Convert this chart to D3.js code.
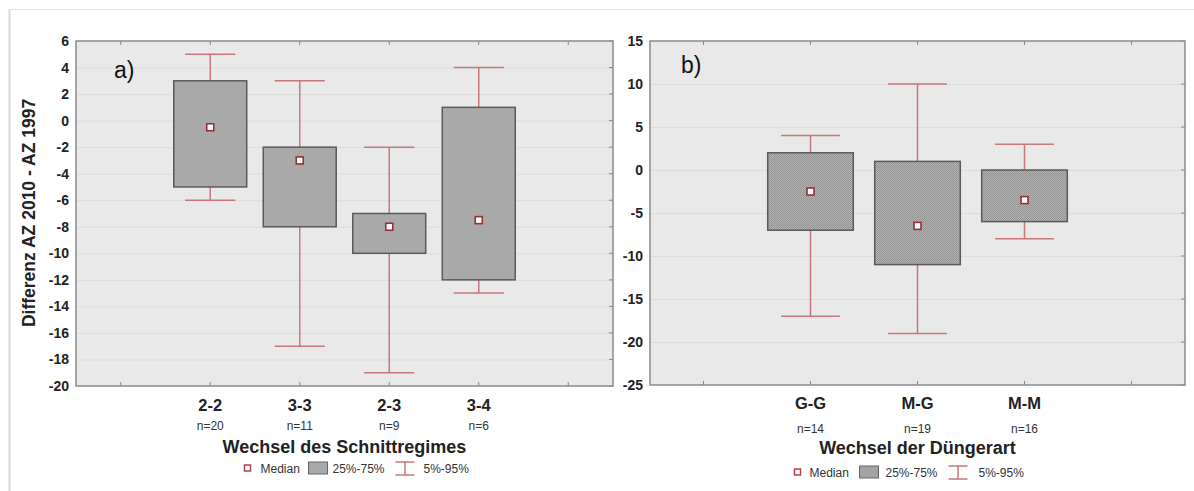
<!DOCTYPE html>
<html>
<head>
<meta charset="utf-8">
<script src="https://cdn.jsdelivr.net/npm/d3@7"></script>
<style>
  body { margin: 0; background: #fff; }
  svg { font-family: Arial, "Liberation Sans", sans-serif; }
</style>
</head>
<body>
<svg id="chart" width="1194" height="491"></svg>
<script>
// Daten Teil a) Schnittregime
const catsA = ["", "2-2", "3-3", "2-3", "3-4", ""];
const nA = ["", "n=20", "n=11", "n=9", "n=6", ""];
const medA = [null, -0.5, -3, -8, -7.5, null];
const q1A = [null, -5, -8, -10, -12, null];
const q3A = [null, 3, -2, -7, 1, null];
const lowA = [null, -6, -17, -19, -13, null];
const highA = [null, 5, 3, -2, 4, null];
const ticksA = [6, 4, 2, 0, -2, -4, -6, -8, -10, -12, -14, -16, -18, -20];

// Daten Teil b) Düngerart
const catsB = ["", "G-G", "M-G", "M-M", ""];
const nB = ["", "n=14", "n=19", "n=16", ""];
const medB = [null, -2.5, -6.5, -3.5, null];
const q1B = [null, -7, -11, -6, null];
const q3B = [null, 2, 1, 0, null];
const lowB = [null, -17, -19, -8, null];
const highB = [null, 4, 10, 3, null];
const ticksB = [15, 10, 5, 0, -5, -10, -15, -20, -25];

const svg = d3.select("#chart");

// feines Punktmuster für Teil b
const defs = svg.append("defs");
const pat = defs.append("pattern")
  .attr("id", "stipple").attr("width", 2).attr("height", 2)
  .attr("patternUnits", "userSpaceOnUse");
pat.append("rect").attr("width", 2).attr("height", 2).attr("fill", "#b2b2b2");
pat.append("rect").attr("width", 1).attr("height", 1).attr("fill", "#949494");
pat.append("rect").attr("x", 1).attr("y", 1).attr("width", 1).attr("height", 1).attr("fill", "#949494");

// Rahmen
svg.append("line").attr("x1", 9.5).attr("x2", 9.5).attr("y1", 9).attr("y2", 491)
  .attr("stroke", "#d8d8d8").attr("stroke-width", 2);
svg.append("line").attr("x1", 9).attr("x2", 1194).attr("y1", 9.5).attr("y2", 9.5)
  .attr("stroke", "#e4e4e4").attr("stroke-width", 1);

const whiskerCol = "#c9777a";
const fmt = d => String(d); // Bindestrich statt Minuszeichen

function panel(o) {
  const g = svg.append("g");
  const x = d3.scaleBand().domain(o.cats.map((c, i) => i)).range([o.left, o.right]);
  const y = d3.scaleLinear().domain([o.ticks[o.ticks.length - 1], o.ticks[0]]).range([o.bottom, o.top]);
  const bw = x.bandwidth();
  const cx = i => x(i) + bw / 2;

  g.append("rect").attr("x", o.left).attr("y", o.top)
    .attr("width", o.right - o.left).attr("height", o.bottom - o.top)
    .attr("fill", "#e9e9e9");

  // Gitterlinien
  g.selectAll(".grid").data(o.ticks.slice(1, -1)).enter().append("line")
    .attr("x1", o.left).attr("x2", o.right)
    .attr("y1", d => y(d) + 0.5).attr("y2", d => y(d) + 0.5)
    .attr("stroke", "#dcdcdc").attr("stroke-width", 1);

  // y-Achse
  const ya = g.append("g").attr("transform", `translate(${o.left},0)`)
    .call(d3.axisLeft(y).tickValues(o.ticks).tickFormat(fmt).tickSize(0).tickPadding(7));
  ya.select(".domain").remove();
  ya.selectAll("text").attr("font-size", 14).attr("font-weight", "bold").attr("fill", "#222");

  // rechte Ticks
  g.selectAll(".rt").data(o.ticks).enter().append("line")
    .attr("x1", o.right - 4).attr("x2", o.right)
    .attr("y1", d => y(d)).attr("y2", d => y(d)).attr("stroke", "#888");

  // obere und untere Ticks
  const idx = o.cats.map((c, i) => i);
  g.selectAll(".tt").data(idx).enter().append("line")
    .attr("x1", cx).attr("x2", cx).attr("y1", o.top).attr("y2", o.top + 4).attr("stroke", "#888");
  g.selectAll(".bt").data(idx).enter().append("line")
    .attr("x1", cx).attr("x2", cx).attr("y1", o.bottom - 4).attr("y2", o.bottom).attr("stroke", "#888");

  const valid = idx.filter(i => o.med[i] !== null);

  // Whisker
  const capW = bw * o.capFrac;
  g.selectAll(".wh").data(valid).enter().append("line")
    .attr("x1", cx).attr("x2", cx)
    .attr("y1", i => y(o.high[i])).attr("y2", i => y(o.low[i]))
    .attr("stroke", whiskerCol).attr("stroke-width", 1.5);
  ["high", "low"].forEach(k => {
    g.selectAll(".cap" + k).data(valid).enter().append("line")
      .attr("x1", i => cx(i) - capW / 2).attr("x2", i => cx(i) + capW / 2)
      .attr("y1", i => y(o[k][i])).attr("y2", i => y(o[k][i]))
      .attr("stroke", whiskerCol).attr("stroke-width", 1.5);
  });

  // Boxen
  const boxW = bw * o.boxFrac;
  g.selectAll(".box").data(valid).enter().append("rect")
    .attr("x", i => cx(i) - boxW / 2).attr("width", boxW)
    .attr("y", i => y(o.q3[i])).attr("height", i => y(o.q1[i]) - y(o.q3[i]))
    .attr("fill", o.fill).attr("stroke", "#5a5a5a").attr("stroke-width", 1.5);

  // Median
  g.selectAll(".med").data(valid).enter().append("rect")
    .attr("x", i => cx(i) - 3.5).attr("y", i => y(o.med[i]) - 3.5)
    .attr("width", 7).attr("height", 7)
    .attr("fill", "#fff").attr("stroke", "#9a2e34").attr("stroke-width", 1.6);

  // Plotrahmen
  g.append("rect").attr("x", o.left).attr("y", o.top)
    .attr("width", o.right - o.left).attr("height", o.bottom - o.top)
    .attr("fill", "none").attr("stroke", "#8a8a8a").attr("stroke-width", 1.5);

  // Kategorien
  g.selectAll(".cat").data(valid).enter().append("text")
    .attr("x", cx).attr("y", o.catY).attr("text-anchor", "middle")
    .attr("font-size", 16.5).attr("font-weight", "bold").attr("fill", "#222")
    .text(i => o.cats[i]);
  g.selectAll(".nn").data(valid).enter().append("text")
    .attr("x", cx).attr("y", o.nY).attr("text-anchor", "middle")
    .attr("font-size", 12).attr("fill", "#333")
    .text(i => o.n[i]);

  const mid = (o.left + o.right) / 2;
  g.append("text").attr("x", mid).attr("y", o.titleY).attr("text-anchor", "middle")
    .attr("font-size", 18).attr("font-weight", "bold").attr("fill", "#222").text(o.title);

  g.append("text").attr("x", o.labelX).attr("y", o.labelY)
    .attr("font-size", 23).attr("fill", "#111").text(o.label);

  // Legende
  const L = o.leg;
  const lg = g.append("g").attr("transform", `translate(${mid},${o.legY})`);
  lg.append("rect").attr("x", L[0]).attr("y", -8).attr("width", 6).attr("height", 6)
    .attr("fill", "#fff").attr("stroke", "#b0454a").attr("stroke-width", 1.5);
  lg.append("text").attr("x", L[1]).attr("y", 0).attr("font-size", 12).attr("fill", "#333").text("Median");
  lg.append("rect").attr("x", L[2]).attr("y", -11).attr("width", 19).attr("height", 12)
    .attr("fill", o.fill).attr("stroke", "#666");
  lg.append("text").attr("x", L[3]).attr("y", 0).attr("font-size", 12).attr("fill", "#333").text("25%-75%");
  lg.append("line").attr("x1", L[4]).attr("x2", L[4] + 19).attr("y1", -11).attr("y2", -11).attr("stroke", whiskerCol).attr("stroke-width", 1.5);
  lg.append("line").attr("x1", L[4]).attr("x2", L[4] + 19).attr("y1", 2).attr("y2", 2).attr("stroke", whiskerCol).attr("stroke-width", 1.5);
  lg.append("line").attr("x1", L[4] + 9.5).attr("x2", L[4] + 9.5).attr("y1", -11).attr("y2", 2).attr("stroke", whiskerCol).attr("stroke-width", 1.5);
  lg.append("text").attr("x", L[5]).attr("y", 0).attr("font-size", 12).attr("fill", "#333").text("5%-95%");
}

panel({
  cats: catsA, n: nA, med: medA, q1: q1A, q3: q3A, low: lowA, high: highA, ticks: ticksA,
  left: 76, right: 613, top: 41, bottom: 386, boxFrac: 0.815, capFrac: 0.56,
  fill: "#a9a9a9", title: "Wechsel des Schnittregimes", label: "a)", labelX: 114, labelY: 78,
  catY: 411, nY: 430, titleY: 453, legY: 473, leg: [-100, -84, -36, -12, 51, 79]
});

panel({
  cats: catsB, n: nB, med: medB, q1: q1B, q3: q3B, low: lowB, high: highB, ticks: ticksB,
  left: 650, right: 1185, top: 41, bottom: 385, boxFrac: 0.80, capFrac: 0.55,
  fill: "url(#stipple)", title: "Wechsel der Düngerart", label: "b)", labelX: 681, labelY: 73,
  catY: 409, nY: 433, titleY: 454, legY: 477, leg: [-123, -108, -58, -32, 31, 61]
});

// y-Achsentitel
svg.append("text").attr("transform", "translate(35,213) rotate(-90)")
  .attr("text-anchor", "middle").attr("font-size", 17.5).attr("font-weight", "bold").attr("fill", "#222")
  .text("Differenz AZ 2010 - AZ 1997");
</script>
</body>
</html>
